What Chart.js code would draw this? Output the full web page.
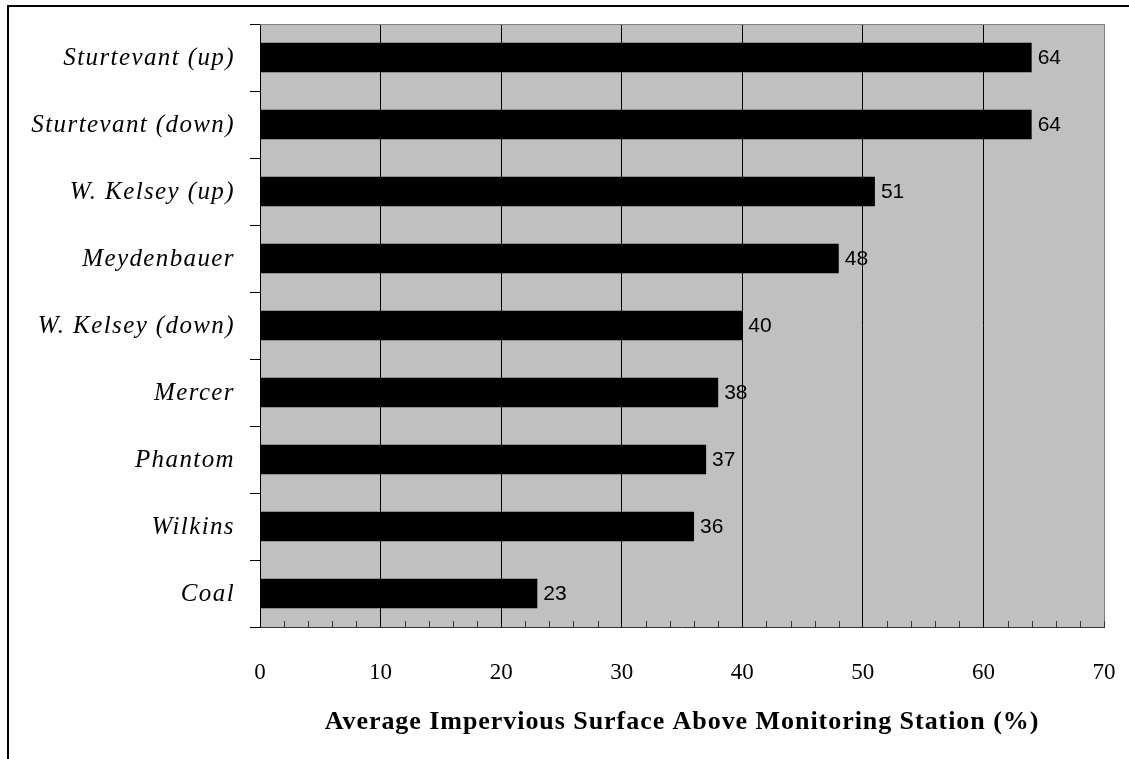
<!DOCTYPE html>
<html>
<head>
<meta charset="utf-8">
<script src="https://cdn.jsdelivr.net/npm/chart.js@4"></script>
<style>
  html, body { margin: 0; padding: 0; background: #fff; }
  canvas { display: block; }
</style>
</head>
<body>
<canvas id="imperviousChart" width="1129" height="759"></canvas>
<script>
const stations = ['Sturtevant (up)', 'Sturtevant (down)', 'W. Kelsey (up)', 'Meydenbauer',
    'W. Kelsey (down)', 'Mercer', 'Phantom', 'Wilkins', 'Coal'];
const impervious = [64, 64, 51, 48, 40, 38, 37, 36, 23];
const axisTitle = 'Average Impervious Surface Above Monitoring Station (%)';

const serif = '"Liberation Serif", "Times New Roman", serif';

// gray plot background and the outer frame
const backdrop = {
    id: 'backdrop',
    beforeDraw(chart) {
        const ctx = chart.ctx;
        const a = chart.chartArea;
        ctx.save();
        ctx.fillStyle = '#fff';
        ctx.fillRect(0, 0, chart.width, chart.height);
        ctx.fillStyle = '#c0c0c0';
        ctx.fillRect(a.left, a.top, a.right - a.left, a.bottom - a.top);
        ctx.strokeStyle = '#000';
        ctx.lineWidth = 2;
        ctx.strokeRect(8, 6, chart.width + 10, chart.height + 10);
        ctx.restore();
    }
};

// minor ticks on the value axis and the value next to each bar
const marks = {
    id: 'marks',
    afterDatasetsDraw(chart) {
        const ctx = chart.ctx;
        const x = chart.scales.x;
        const a = chart.chartArea;
        ctx.save();
        ctx.strokeStyle = '#333';
        ctx.lineWidth = 1;
        ctx.beginPath();
        for (let v = 2; v < 70; v += 2) {
            if (v % 10 === 0) continue;
            const px = Math.round(x.getPixelForValue(v)) + 0.5;
            ctx.moveTo(px, a.bottom);
            ctx.lineTo(px, a.bottom - 6);
        }
        const rx = Math.round(x.getPixelForValue(70)) + 0.5;
        ctx.moveTo(rx, a.bottom);
        ctx.lineTo(rx, a.bottom - 6);
        ctx.stroke();

        ctx.fillStyle = '#000';
        ctx.font = '21px "Liberation Sans", Arial, sans-serif';
        ctx.textAlign = 'left';
        ctx.textBaseline = 'middle';
        chart.getDatasetMeta(0).data.forEach((bar, i) => {
            ctx.fillText(String(impervious[i]), bar.x + 6, bar.y + 1);
        });

        // top edge of the plot area
        ctx.strokeStyle = '#808080';
        ctx.beginPath();
        ctx.moveTo(a.left, a.top + 0.5);
        ctx.lineTo(a.right, a.top + 0.5);
        ctx.stroke();
        ctx.restore();
    }
};

// italic station names and the axis title
const labels = {
    id: 'labels',
    afterDraw(chart) {
        const ctx = chart.ctx;
        const y = chart.scales.y;
        const a = chart.chartArea;
        ctx.save();
        ctx.fillStyle = '#000';
        ctx.textBaseline = 'middle';
        ctx.textAlign = 'right';
        ctx.font = 'italic 25px ' + serif;
        ctx.letterSpacing = '1.4px';
        stations.forEach((name, i) => {
            ctx.fillText(name, 235, y.getPixelForValue(i) + 1);
        });
        ctx.textAlign = 'center';
        ctx.font = 'bold 26px ' + serif;
        ctx.letterSpacing = '0.95px';
        ctx.fillText(axisTitle, (a.left + a.right) / 2, 722);
        ctx.restore();
    }
};

const ctx = document.getElementById('imperviousChart').getContext('2d');
new Chart(ctx, {
    type: 'bar',
    data: {
        labels: stations,
        datasets: [{
            data: impervious,
            backgroundColor: '#000',
            borderWidth: 0,
            barPercentage: 0.44,
            categoryPercentage: 1
        }]
    },
    options: {
        indexAxis: 'y',
        responsive: false,
        devicePixelRatio: 1,
        animation: false,
        layout: { padding: { left: 0, top: 24, right: 25, bottom: 0 } },
        plugins: {
            legend: { display: false },
            tooltip: { enabled: false }
        },
        scales: {
            x: {
                min: 0,
                max: 70,
                afterFit(scale) {
                    scale.height = 132;
                    scale.paddingLeft = 0;
                    scale.paddingRight = 0;
                },
                ticks: {
                    stepSize: 10,
                    color: '#000',
                    padding: 32,
                    font: { family: serif, size: 23 }
                },
                grid: {
                    color: c => (c.tick && c.tick.value === 70) ? '#808080' : '#000',
                    lineWidth: 1,
                    drawTicks: false
                },
                border: { color: '#333', width: 1 }
            },
            y: {
                afterFit(scale) { scale.width = 260; },
                ticks: { display: false },
                grid: {
                    offset: true,
                    drawOnChartArea: false,
                    drawTicks: true,
                    tickLength: 10,
                    color: '#000'
                },
                border: { color: '#000', width: 1 }
            }
        }
    },
    plugins: [backdrop, marks, labels]
});
</script>
</body>
</html>
